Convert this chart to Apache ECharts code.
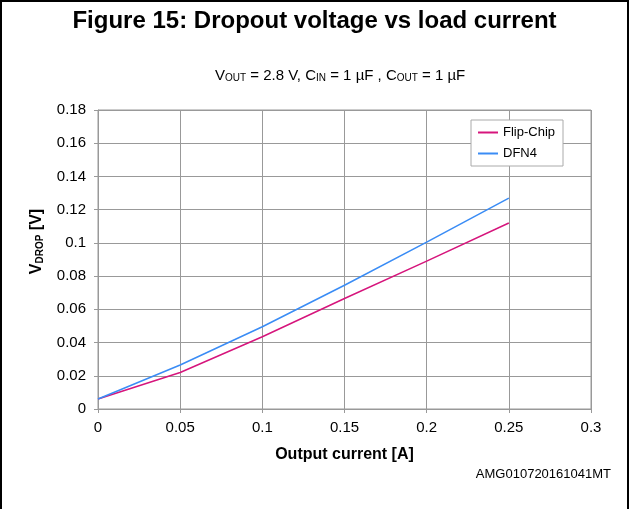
<!DOCTYPE html>
<html>
<head>
<meta charset="utf-8">
<script src="https://cdn.jsdelivr.net/npm/echarts@6/dist/echarts.min.js"></script>
<style>
html, body { margin: 0; padding: 0; background: #fff; }
#frame { position: absolute; left: 0; top: 0; width: 629px; height: 509px; border-left: 2px solid #000; border-top: 2px solid #000; border-right: 2px solid #000; box-sizing: border-box; }
#chart { position: absolute; left: 0; top: 0; width: 629px; height: 509px; }
</style>
</head>
<body>
<div id="chart"></div>
<div id="frame"></div>
<script>
// 输出电流 (A)
var current = [0, 0.05, 0.1, 0.15, 0.2, 0.25];
// 压降 (V)
var flipChip = [0.006, 0.022, 0.0435, 0.0665, 0.089, 0.112];
var dfn4 = [0.006, 0.0265, 0.0495, 0.0745, 0.1005, 0.127];
var seriesNames = ['Flip-Chip', 'DFN4'];

function pairs(xs, ys) {
    var out = [];
    for (var i = 0; i < xs.length; i++) {
        out.push([xs[i], ys[i]]);
    }
    return out;
}

var chart = echarts.init(document.getElementById('chart'));
var font = 'Liberation Sans, Arial, sans-serif';

var option = {
    animation: false,
    textStyle: { fontFamily: font },
    title: [{
        text: 'Figure 15: Dropout voltage vs load current',
        left: 'center',
        top: 4,
        textStyle: { fontSize: 24, fontWeight: 'bold', color: '#000', fontFamily: font }
    }, {
        text: '{n|V}{s|OUT}{n| = 2.8 V, C}{s|IN}{n| = 1 µF , C}{s|OUT}{n| = 1 µF}',
        left: 210,
        top: 60,
        textStyle: {
            fontWeight: 'normal',
            rich: {
                n: { fontSize: 15, fontWeight: 'normal', color: '#000', fontFamily: font, verticalAlign: 'bottom', lineHeight: 18 },
                s: { fontSize: 10, fontWeight: 'normal', color: '#000', fontFamily: font, verticalAlign: 'bottom', lineHeight: 13 }
            }
        }
    }],
    legend: {
        data: seriesNames,
        orient: 'vertical',
        left: 471,
        top: 120,
        padding: [6, 8, 6, 7],
        itemGap: 8,
        borderColor: '#aaa',
        borderWidth: 1,
        backgroundColor: '#fff',
        icon: 'rect',
        itemWidth: 20,
        itemHeight: 2,
        textStyle: { fontSize: 13, color: '#000', fontFamily: font }
    },
    grid: {
        left: 98,
        right: 38,
        top: 110,
        bottom: 100,
        show: true,
        borderColor: '#999',
        borderWidth: 1
    },
    xAxis: {
        type: 'value',
        min: 0,
        max: 0.3,
        interval: 0.05,
        name: 'Output current [A]',
        nameLocation: 'middle',
        nameGap: 38,
        nameTextStyle: { fontSize: 16, fontWeight: 'bold', color: '#000', fontFamily: font },
        axisLine: { lineStyle: { color: '#999' } },
        axisTick: { show: true, length: 4, lineStyle: { color: '#999' } },
        axisLabel: { fontSize: 15, color: '#000', margin: 11 },
        splitLine: { lineStyle: { color: '#999', width: 1 } }
    },
    yAxis: {
        type: 'value',
        min: 0,
        max: 0.18,
        interval: 0.02,
        name: '{b|V}{s|DROP}{b| [V]}',
        nameLocation: 'middle',
        nameRotate: 90,
        nameGap: 53,
        nameTextStyle: {
            padding: [0, 0, 0, 36],
            rich: {
                b: { fontSize: 16, fontWeight: 'bold', color: '#000', fontFamily: font, verticalAlign: 'bottom', lineHeight: 19 },
                s: { fontSize: 10, fontWeight: 'bold', color: '#000', fontFamily: font, verticalAlign: 'bottom', lineHeight: 15 }
            }
        },
        axisLine: { show: true, lineStyle: { color: '#999' } },
        axisTick: { show: true, length: 4, lineStyle: { color: '#999' } },
        axisLabel: { fontSize: 15, color: '#000', margin: 12 },
        splitLine: { lineStyle: { color: '#999', width: 1 } }
    },
    graphic: [{
        type: 'text',
        right: 18,
        top: 468,
        style: { text: 'AMG010720161041MT', fontSize: 13, fill: '#000', fontFamily: font }
    }],
    series: [{
        name: seriesNames[0],
        type: 'line',
        data: pairs(current, flipChip),
        showSymbol: false,
        lineStyle: { color: '#d6157c', width: 1.5 },
        itemStyle: { color: '#d6157c' }
    }, {
        name: seriesNames[1],
        type: 'line',
        data: pairs(current, dfn4),
        showSymbol: false,
        lineStyle: { color: '#3a8cf5', width: 1.5 },
        itemStyle: { color: '#3a8cf5' }
    }]
};

chart.setOption(option);
</script>
</body>
</html>
